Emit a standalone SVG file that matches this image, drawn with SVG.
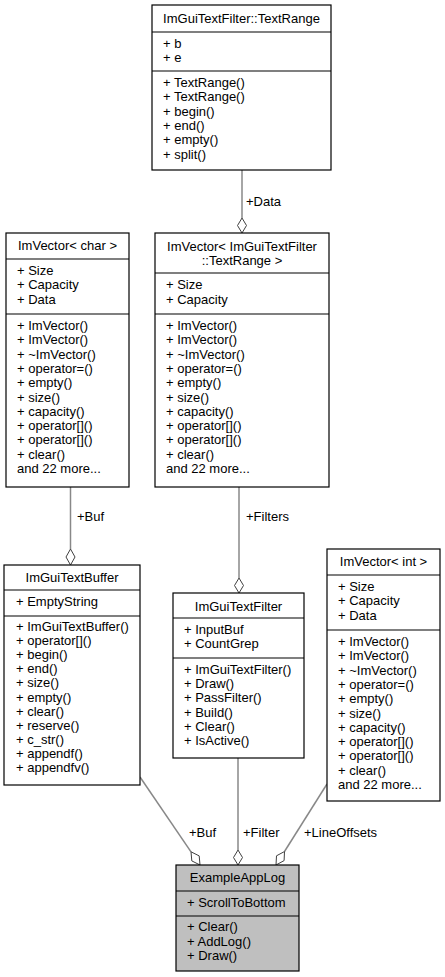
<svg xmlns="http://www.w3.org/2000/svg" width="445" height="977" viewBox="0 0 445 977">
<style>
text{font-family:"Liberation Sans",Arial,sans-serif;font-size:13px;fill:#000}
.c{text-anchor:middle}
.box{fill:#fff;stroke:#000;stroke-width:1.2}
.main{fill:#bfbfbf;stroke:#000;stroke-width:1.2}
.sep{stroke:#000;stroke-width:1.2}
.edge{fill:none;stroke:#888;stroke-width:1.5}
.dia{fill:#fff;stroke:#404040;stroke-width:1}
</style>
<rect width="445" height="977" fill="#fff"/>
<g id="connectors">
<line class="edge" x1="242" y1="170" x2="242" y2="218"/>
<polygon class="dia" points="242,218 246.5,225.5 242,233 237.5,225.5"/>
<text x="246" y="206">+Data</text>
<line class="edge" x1="70.5" y1="487" x2="70.5" y2="549"/>
<polygon class="dia" points="70.5,549 75,557 70.5,565 66,557"/>
<text x="77" y="521">+Buf</text>
<line class="edge" x1="239" y1="487" x2="239" y2="578"/>
<polygon class="dia" points="239,578 243.5,585.5 239,593 234.5,585.5"/>
<text x="246" y="521">+Filters</text>
<line class="edge" x1="140" y1="777" x2="191" y2="851.8"/>
<polygon class="dia" points="191,851.8 199.2,855.9 200,865 191.8,860.9"/>
<text x="189" y="837">+Buf</text>
<line class="edge" x1="238" y1="758" x2="238" y2="850"/>
<polygon class="dia" points="238,850 242.5,857.5 238,865 233.5,857.5"/>
<text x="243" y="837">+Filter</text>
<line class="edge" x1="327" y1="784" x2="284.5" y2="851.5"/>
<polygon class="dia" points="284.5,851.5 284.1,860.6 276,865 276.5,855.8"/>
<text x="304" y="837">+LineOffsets</text>
</g>
<g id="TextRange">
<rect class="box" x="152" y="5" width="179" height="165"/>
<line class="sep" x1="152" y1="32" x2="331" y2="32"/>
<line class="sep" x1="152" y1="71" x2="331" y2="71"/>
<text class="c" x="241.5" y="23">ImGuiTextFilter::TextRange</text>
<text x="163" y="48">+ b</text>
<text x="163" y="62">+ e</text>
<text x="163" y="87">+ TextRange()</text>
<text x="163" y="101">+ TextRange()</text>
<text x="163" y="116">+ begin()</text>
<text x="163" y="130">+ end()</text>
<text x="163" y="144">+ empty()</text>
<text x="163" y="159">+ split()</text>
</g>
<g id="ImVectorChar">
<rect class="box" x="6" y="233" width="123" height="254"/>
<line class="sep" x1="6" y1="259" x2="129" y2="259"/>
<line class="sep" x1="6" y1="314" x2="129" y2="314"/>
<text class="c" x="67.5" y="250">ImVector&lt; char &gt;</text>
<text x="17" y="275">+ Size</text>
<text x="17" y="289">+ Capacity</text>
<text x="17" y="304">+ Data</text>
<text x="17" y="330">+ ImVector()</text>
<text x="17" y="344">+ ImVector()</text>
<text x="17" y="359">+ ~ImVector()</text>
<text x="17" y="373">+ operator=()</text>
<text x="17" y="387">+ empty()</text>
<text x="17" y="402">+ size()</text>
<text x="17" y="416">+ capacity()</text>
<text x="17" y="430">+ operator[]()</text>
<text x="17" y="444">+ operator[]()</text>
<text x="17" y="459">+ clear()</text>
<text x="17" y="473">and 22 more...</text>
</g>
<g id="ImVectorTextRange">
<rect class="box" x="155" y="233" width="174" height="254"/>
<line class="sep" x1="155" y1="273" x2="329" y2="273"/>
<line class="sep" x1="155" y1="314" x2="329" y2="314"/>
<text class="c" x="242" y="251">ImVector&lt; ImGuiTextFilter</text>
<text class="c" x="242" y="265">::TextRange &gt;</text>
<text x="166" y="289">+ Size</text>
<text x="166" y="304">+ Capacity</text>
<text x="166" y="330">+ ImVector()</text>
<text x="166" y="344">+ ImVector()</text>
<text x="166" y="359">+ ~ImVector()</text>
<text x="166" y="373">+ operator=()</text>
<text x="166" y="387">+ empty()</text>
<text x="166" y="402">+ size()</text>
<text x="166" y="416">+ capacity()</text>
<text x="166" y="430">+ operator[]()</text>
<text x="166" y="444">+ operator[]()</text>
<text x="166" y="459">+ clear()</text>
<text x="166" y="473">and 22 more...</text>
</g>
<g id="ImGuiTextBuffer">
<rect class="box" x="4" y="565" width="136" height="220"/>
<line class="sep" x1="4" y1="590" x2="140" y2="590"/>
<line class="sep" x1="4" y1="616" x2="140" y2="616"/>
<text class="c" x="72" y="582">ImGuiTextBuffer</text>
<text x="16" y="606">+ EmptyString</text>
<text x="16" y="631">+ ImGuiTextBuffer()</text>
<text x="16" y="645">+ operator[]()</text>
<text x="16" y="659">+ begin()</text>
<text x="16" y="673">+ end()</text>
<text x="16" y="687">+ size()</text>
<text x="16" y="702">+ empty()</text>
<text x="16" y="716">+ clear()</text>
<text x="16" y="730">+ reserve()</text>
<text x="16" y="744">+ c_str()</text>
<text x="16" y="758">+ appendf()</text>
<text x="16" y="772">+ appendfv()</text>
</g>
<g id="ImGuiTextFilter">
<rect class="box" x="173" y="593" width="131" height="165"/>
<line class="sep" x1="173" y1="618" x2="304" y2="618"/>
<line class="sep" x1="173" y1="658" x2="304" y2="658"/>
<text class="c" x="238.5" y="611">ImGuiTextFilter</text>
<text x="184" y="634">+ InputBuf</text>
<text x="184" y="648">+ CountGrep</text>
<text x="184" y="674">+ ImGuiTextFilter()</text>
<text x="184" y="688">+ Draw()</text>
<text x="184" y="702">+ PassFilter()</text>
<text x="184" y="717">+ Build()</text>
<text x="184" y="731">+ Clear()</text>
<text x="184" y="745">+ IsActive()</text>
</g>
<g id="ImVectorInt">
<rect class="box" x="327" y="549" width="113" height="252"/>
<line class="sep" x1="327" y1="575" x2="440" y2="575"/>
<line class="sep" x1="327" y1="630" x2="440" y2="630"/>
<text class="c" x="383.5" y="566">ImVector&lt; int &gt;</text>
<text x="338" y="591">+ Size</text>
<text x="338" y="605">+ Capacity</text>
<text x="338" y="620">+ Data</text>
<text x="338" y="646">+ ImVector()</text>
<text x="338" y="660">+ ImVector()</text>
<text x="338" y="675">+ ~ImVector()</text>
<text x="338" y="689">+ operator=()</text>
<text x="338" y="703">+ empty()</text>
<text x="338" y="718">+ size()</text>
<text x="338" y="732">+ capacity()</text>
<text x="338" y="746">+ operator[]()</text>
<text x="338" y="760">+ operator[]()</text>
<text x="338" y="775">+ clear()</text>
<text x="338" y="789">and 22 more...</text>
</g>
<g id="ExampleAppLog">
<rect class="main" x="176" y="865" width="123" height="106"/>
<line class="sep" x1="176" y1="891" x2="299" y2="891"/>
<line class="sep" x1="176" y1="916" x2="299" y2="916"/>
<text class="c" x="237.5" y="882">ExampleAppLog</text>
<text x="187" y="907">+ ScrollToBottom</text>
<text x="187" y="931">+ Clear()</text>
<text x="187" y="946">+ AddLog()</text>
<text x="187" y="960">+ Draw()</text>
</g>
</svg>
